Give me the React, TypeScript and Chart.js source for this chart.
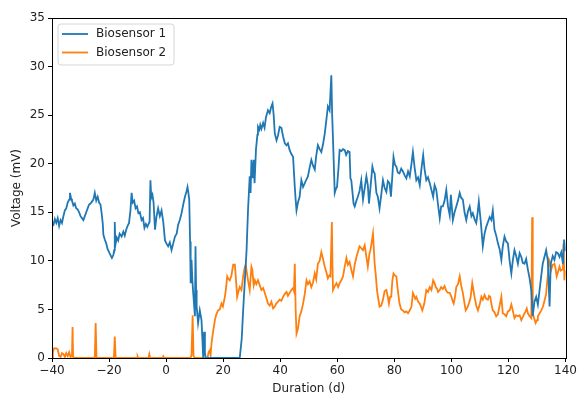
import React, { useEffect, useRef } from "react";
import { Chart, registerables } from "chart.js";

Chart.register(...registerables);

const seriesNames = ["Biosensor 1", "Biosensor 2"];
const seriesColors = ["#1f77b4", "#ff7f0e"];
const xTicks = [-40, -20, 0, 20, 40, 60, 80, 100, 120, 140];
const yTicks = [0, 5, 10, 15, 20, 25, 30, 35];

const b1X = [
  -40, -39.5, -39, -38.5, -38, -37.5, -37, -36.5, -36, -35.5, -35, -34.5, -34, -33.7, -33.3, -33, -32.5, -32, -31.5, -31,
  -30.5, -30, -29.5, -29, -28.5, -28, -27.5, -27, -26.5, -26, -25.5, -25, -24.5, -24, -23.5, -23, -22.6, -22.2, -22, -21.5,
  -21, -20.5, -20, -19.5, -19, -18.5, -18.2, -18, -17.8, -17.3, -16.8, -16.3, -15.6, -15, -14.5, -14, -13.5, -13, -12.5, -12.1,
  -11.7, -11.2, -10.7, -10.2, -9.7, -9.2, -8.6, -8.1, -7.6, -7.1, -6.6, -6.3, -5.8, -5.5, -5.2, -4.8, -4.4, -3.9, -3.4, -2.8,
  -2.2, -1.6, -1.0, -0.4, 0.1, 0.7, 1.3, 1.9, 2.5, 3.1, 3.7, 4.2, 4.8, 5.4, 6.0, 6.6, 7.1, 7.5, 7.8, 8.1,
  8.4, 8.6, 8.9, 9.2, 9.5, 9.8, 10.1, 10.3, 10.5, 10.7, 11.2, 11.8, 12.4, 12.7, 13.0, 13.3, 13.6, 13.9, 25.8, 26.5,
  27.0, 27.6, 28.2, 28.7, 29.3, 29.6, 29.9, 30.4, 30.7, 31.0, 31.5, 32.0, 32.2, 32.7, 33.0, 33.4, 34.0, 34.5, 35.0, 35.2,
  35.7, 36.3, 36.8, 37.3, 37.7, 38.1, 38.7, 39.2, 39.8, 40.4, 41.0, 41.6, 42.2, 42.7, 43.3, 43.9, 44.5, 45.1, 45.4, 45.7,
  46.2, 46.8, 47.4, 48.0, 48.6, 49.2, 49.7, 50.3, 50.9, 51.5, 52.1, 52.6, 53.2, 53.8, 54.4, 55.0, 55.6, 56.2, 56.7, 57.3,
  57.9, 58.2, 58.5, 59.1, 59.5, 59.9, 60.4, 60.8, 61.4, 62.0, 62.6, 63.1, 63.7, 64.3, 64.6, 64.9, 65.7, 66.1, 66.7, 67.2,
  67.8, 68.4, 69.0, 69.6, 70.2, 70.7, 71.1, 71.7, 72.3, 72.7, 73.1, 73.7, 74.2, 74.8, 75.4, 76.0, 76.6, 77.2, 77.7, 78.3,
  78.8, 79.3, 79.7, 80.2, 80.7, 81.2, 81.8, 82.4, 83.0, 83.6, 84.2, 84.8, 85.4, 86.0, 86.5, 87.1, 87.7, 88.3, 88.9, 89.5,
  90.1, 90.6, 91.2, 91.8, 92.4, 93.0, 93.6, 94.1, 94.7, 95.3, 95.9, 96.4, 97.0, 97.6, 98.2, 98.8, 99.4, 99.8, 100.5, 101.1,
  101.7, 102.3, 102.9, 103.4, 104.0, 104.6, 105.2, 105.8, 106.4, 107.0, 107.5, 108.1, 108.7, 109.2, 109.6, 110.3, 111.0, 111.6, 112.2, 112.8,
  113.4, 114.0, 114.5, 115.1, 115.7, 116.3, 116.9, 117.5, 118.0, 118.6, 119.2, 119.8, 120.4, 121.0, 121.5, 122.1, 122.7, 123.3, 123.9, 124.5,
  125.0, 125.6, 126.2, 126.8, 127.4, 128.0, 128.5, 129.1, 129.7, 130.3, 130.9, 131.5, 132.0, 132.6, 133.2, 133.8, 134.4, 134.8, 135.5, 136.1,
  136.7, 137.3, 137.9, 138.5, 139.1, 139.5, 140,
];
const b1Y = [
  13.8, 13.7, 14.3, 13.9, 14.4, 13.6, 14.2, 13.9, 14.6, 15.2, 15.4, 16.0, 16.3, 17.0, 16.4, 16.2, 15.7, 15.9, 15.4, 15.3,
  15.0, 14.6, 14.4, 14.2, 14.6, 15.0, 15.4, 15.8, 15.9, 16.1, 16.3, 17.0, 16.2, 16.6, 16.0, 15.8, 14.9, 13.8, 12.7, 12.2,
  11.8, 11.2, 10.9, 10.6, 10.3, 10.6, 11.1, 14.0, 11.6, 12.4, 12.1, 12.8, 12.5, 13.0, 12.6, 13.2, 13.6, 13.9, 15.2, 17.0,
  16.0, 16.2, 15.4, 15.6, 14.9, 15.0, 14.2, 14.4, 13.4, 13.8, 13.5, 13.7, 14.0, 18.3, 16.5, 16.8, 16.0, 13.2, 14.5, 15.4,
  14.6, 15.2, 14.0, 12.1, 11.8, 11.5, 11.9, 11.1, 11.8, 12.5, 12.8, 13.7, 14.2, 14.9, 15.8, 16.6, 17.1, 17.6, 17.0, 16.3,
  12.0, 7.7, 10.1, 8.0, 6.7, 5.5, 4.3, 11.5, 7.0, 5.3, 3.6, 4.9, 3.9, 2.0, 0.0, 2.7, 0.5, 0, 0, 2.0,
  4.9, 8.0, 11.1, 15.2, 18.7, 17.0, 20.4, 18.5, 20.4, 18.0, 21.5, 23.0, 23.8, 23.5, 24.0, 23.6, 24.2, 23.7, 24.8, 25.0,
  25.5, 25.2, 25.8, 26.2, 25.0, 23.1, 22.4, 22.9, 23.8, 23.7, 22.8, 22.1, 21.9, 22.1, 21.4, 21.0, 20.7, 17.6, 16.3, 15.2,
  16.0, 16.6, 18.3, 17.6, 18.0, 18.4, 18.7, 19.6, 20.4, 19.8, 19.4, 20.8, 21.9, 21.5, 21.2, 22.0, 23.1, 24.6, 25.9, 25.5,
  29.1, 25.0, 22.4, 17.0, 17.4, 17.6, 19.5, 21.4, 21.3, 21.5, 21.4, 20.9, 21.3, 21.2, 18.5, 18.3, 15.9, 15.6, 16.2, 16.6,
  17.2, 18.3, 16.3, 17.5, 18.7, 17.8, 15.9, 17.8, 19.7, 19.2, 19.0, 17.0, 16.6, 15.4, 16.8, 18.3, 17.5, 17.1, 18.2, 18.0,
  16.6, 18.8, 20.7, 19.9, 19.7, 19.1, 19.0, 19.5, 19.2, 18.8, 18.5, 19.2, 18.7, 20.0, 21.2, 19.6, 18.3, 18.6, 17.8, 19.5,
  20.9, 19.4, 18.3, 18.6, 18.0, 17.3, 16.6, 17.8, 17.3, 15.8, 14.4, 15.6, 15.6, 16.2, 17.3, 15.6, 14.7, 16.8, 14.2, 15.0,
  15.6, 16.2, 17.0, 16.5, 16.3, 15.0, 14.2, 15.1, 15.6, 14.6, 14.9, 14.3, 13.9, 15.0, 16.1, 14.0, 11.5, 12.8, 13.5, 14.0,
  14.5, 14.2, 15.2, 13.2, 12.6, 11.8, 11.2, 10.1, 11.5, 12.5, 12.0, 11.8, 10.0, 8.7, 10.0, 11.1, 10.5, 9.7, 10.8, 10.4,
  9.8, 9.7, 10.2, 9.1, 8.2, 7.0, 4.3, 5.8, 6.3, 5.5, 7.0, 8.5, 9.7, 10.4, 11.1, 10.0, 5.3, 9.7, 10.5, 10.1,
  10.9, 10.8, 10.4, 10.9, 9.7, 12.2, 11.0,
];

const b2X = [
  -40, -39.7, -39.3, -38.5, -38, -37.5, -37, -36.5, -36, -35.5, -35, -34.5, -34, -33.5, -33, -32.8, -32.6, -32, -25, -24.7,
  -24.4, -18.3, -18, -17.7, -10.2, -10, -9.8, -6.2, -5.9, -5.6, -1.2, -1.0, -0.8, 8.6, 8.9, 9.3, 9.6, 10.0, 14.5, 14.9,
  15.3, 15.6, 15.9, 16.5, 17.1, 17.6, 18.2, 18.8, 19.4, 19.9, 20.6, 21.0, 21.4, 21.7, 22.3, 22.9, 23.5, 24.1, 24.5, 24.9,
  25.3, 25.8, 26.4, 27.0, 27.6, 27.9, 28.3, 28.7, 29.3, 29.9, 30.2, 30.7, 31.1, 31.6, 32.2, 32.8, 33.4, 34.0, 34.6, 35.1,
  35.7, 36.3, 36.9, 37.5, 38.1, 38.6, 39.2, 39.8, 40.4, 41.0, 41.6, 42.2, 42.7, 43.3, 43.9, 44.5, 44.8, 45.1, 45.4, 45.7,
  46.2, 46.8, 47.4, 48.0, 48.6, 49.2, 49.7, 50.3, 50.9, 51.5, 52.1, 52.6, 53.2, 53.8, 54.4, 55.0, 55.6, 56.2, 56.7, 57.2,
  57.6, 58.1, 58.3, 58.5, 59.1, 59.7, 60.3, 60.8, 61.4, 62.0, 62.6, 63.2, 63.7, 64.3, 64.9, 65.5, 66.1, 66.7, 67.2, 67.8,
  68.4, 69.0, 69.6, 70.2, 70.7, 71.3, 71.6, 72.0, 72.5, 73.1, 73.5, 73.9, 74.3, 74.8, 75.4, 76.0, 76.6, 77.2, 77.7, 78.1,
  78.5, 78.9, 79.3, 79.7, 80.2, 80.7, 81.2, 81.8, 82.4, 83.0, 83.6, 84.2, 84.8, 85.4, 86.0, 86.5, 86.8, 87.3, 87.7, 88.3,
  88.9, 89.3, 89.8, 90.5, 91.2, 91.8, 92.4, 93.0, 93.6, 94.1, 94.5, 95.0, 95.3, 95.9, 96.4, 97.0, 97.6, 98.2, 98.8, 99.4,
  100.0, 100.5, 100.8, 101.2, 101.7, 102.3, 102.9, 103.4, 104.0, 104.6, 105.0, 105.6, 106.1, 106.7, 107.3, 107.7, 108.1, 108.7, 109.3, 109.9,
  110.5, 111.0, 111.6, 112.2, 112.8, 113.2, 113.6, 114.0, 114.5, 115.1, 115.7, 116.3, 116.9, 117.5, 118.0, 118.6, 119.2, 119.8, 120.4, 121.0,
  121.5, 122.1, 122.7, 123.3, 123.9, 124.5, 125.0, 125.6, 126.0, 126.4, 126.8, 127.4, 128.0, 128.3, 128.5, 128.8, 129.5, 130.0, 130.3, 130.9,
  131.5, 132.1, 132.7, 133.2, 133.5, 133.9, 134.2, 134.6, 135.0, 135.5, 136.1, 136.5, 136.9, 137.4, 137.9, 138.3, 138.8, 139.1, 139.3, 139.6,
  140,
];
const b2Y = [
  0, 0.6, 1.0, 1.0, 0.9, 0.2, 0.1, 0.5, 0.4, 0.1, 0.5, 0.2, 0.6, 0.1, 0.2, 3.2, 0.1, 0, 0, 3.6,
  0, 0, 2.2, 0, 0, 0.15, 0, 0, 0.4, 0, 0, 0.15, 0, 0, 0.3, 4.4, 0.2, 0, 0, 0.6,
  0.8, 0.3, 1.5, 2.8, 3.9, 4.5, 4.9, 5.0, 5.6, 5.3, 6.3, 7.2, 8.4, 8.2, 8.0, 8.5, 9.6, 9.6, 8.0, 6.3,
  6.8, 7.3, 7.0, 8.4, 9.4, 9.6, 8.8, 8.0, 7.0, 9.4, 9.1, 7.5, 8.0, 7.6, 8.0, 7.5, 7.0, 7.2, 6.7, 6.2,
  5.6, 5.4, 5.8, 5.1, 5.3, 5.6, 5.8, 6.0, 5.9, 6.3, 6.6, 6.8, 6.4, 6.7, 7.0, 7.2, 6.9, 9.7, 5.0, 2.5,
  3.0, 4.3, 4.8, 5.6, 6.6, 8.0, 7.6, 7.9, 7.3, 7.8, 8.7, 8.1, 9.7, 10.0, 10.9, 10.2, 9.4, 8.8, 8.2, 8.5,
  8.4, 14.0, 9.5, 7.0, 7.4, 7.7, 7.3, 7.7, 8.0, 8.4, 9.4, 10.3, 9.6, 9.9, 9.1, 8.4, 9.6, 10.4, 10.9, 11.5,
  11.3, 11.1, 11.6, 10.4, 9.4, 10.8, 11.1, 11.8, 12.8, 9.7, 8.5, 7.0, 6.2, 5.3, 5.4, 6.0, 6.9, 7.0, 6.3, 5.6,
  6.3, 6.3, 8.0, 8.7, 8.5, 8.4, 7.0, 5.6, 5.0, 4.9, 4.7, 4.8, 4.6, 4.9, 5.3, 6.7, 6.5, 6.1, 6.3, 5.8,
  5.6, 5.3, 4.9, 5.6, 7.0, 6.8, 7.3, 7.0, 8.0, 7.7, 7.3, 7.1, 6.8, 7.0, 7.3, 7.1, 7.4, 6.9, 6.7, 6.7,
  6.3, 5.8, 5.6, 6.2, 7.3, 7.6, 8.4, 7.5, 6.7, 5.6, 4.9, 5.2, 5.6, 6.2, 7.7, 7.0, 6.3, 5.4, 4.9, 5.5,
  6.3, 6.0, 6.5, 6.1, 6.0, 6.4, 6.3, 5.6, 4.9, 4.7, 4.3, 4.5, 5.4, 6.3, 4.6, 4.5, 4.3, 4.8, 4.9, 5.5,
  4.9, 4.1, 4.4, 4.3, 4.4, 3.9, 4.2, 4.6, 4.8, 5.1, 4.6, 4.3, 4.1, 14.5, 4.5, 4.3, 3.6, 3.9, 4.3, 4.6,
  4.9, 5.3, 6.0, 6.6, 7.7, 8.8, 10.1, 9.8, 9.1, 9.6, 9.7, 9.2, 8.4, 8.9, 9.4, 9.0, 9.1, 10.5, 11.8, 8.0,
  9.0,
];

const FONT = "'DejaVu Sans', sans-serif";

const framePlugin = {
  id: "frameAndLegend",
  afterDraw(chart: any) {
    const { ctx, chartArea } = chart;
    const { left, top, right, bottom } = chartArea;
    ctx.save();
    ctx.strokeStyle = "#000";
    ctx.lineWidth = 1;
    ctx.strokeRect(Math.round(left) + 0.5, Math.round(top) + 0.5, Math.round(right - left), Math.round(bottom - top));
    // legend (matplotlib style)
    const bx = left + 6;
    const by = top + 6;
    const bw = 116;
    const bh = 41;
    const r = 3;
    ctx.beginPath();
    ctx.moveTo(bx + r, by);
    ctx.lineTo(bx + bw - r, by);
    ctx.quadraticCurveTo(bx + bw, by, bx + bw, by + r);
    ctx.lineTo(bx + bw, by + bh - r);
    ctx.quadraticCurveTo(bx + bw, by + bh, bx + bw - r, by + bh);
    ctx.lineTo(bx + r, by + bh);
    ctx.quadraticCurveTo(bx, by + bh, bx, by + bh - r);
    ctx.lineTo(bx, by + r);
    ctx.quadraticCurveTo(bx, by, bx + r, by);
    ctx.closePath();
    ctx.fillStyle = "rgba(255,255,255,0.8)";
    ctx.fill();
    ctx.strokeStyle = "#d6d6d6";
    ctx.lineWidth = 1;
    ctx.stroke();
    ctx.font = `12px ${FONT}`;
    ctx.textBaseline = "middle";
    ctx.textAlign = "left";
    seriesNames.forEach((name, i) => {
      const y = by + 10 + i * 18.5;
      ctx.strokeStyle = seriesColors[i];
      ctx.lineWidth = 1.8;
      ctx.beginPath();
      ctx.moveTo(bx + 4, y);
      ctx.lineTo(bx + 30, y);
      ctx.stroke();
      ctx.fillStyle = "#222";
      ctx.fillText(name, bx + 38, y);
    });
    ctx.restore();
  },
};

export default function App() {
  const ref = useRef<HTMLCanvasElement | null>(null);
  useEffect(() => {
    document.body.style.margin = "0";
    const xs = [b1X, b2X];
    const ys = [b1Y, b2Y];
    const chart = new Chart(ref.current as HTMLCanvasElement, {
      type: "line",
      data: {
        datasets: seriesNames.map((name, i) => ({
          label: name,
          data: xs[i].map((x, j) => ({ x, y: ys[i][j] })),
          borderColor: seriesColors[i],
          backgroundColor: seriesColors[i],
          borderWidth: 1.8,
          pointRadius: 0,
          tension: 0,
          fill: false,
        })),
      },
      options: {
        animation: false,
        responsive: false,
        maintainAspectRatio: false,
        layout: { padding: { top: 18, right: 13, left: 0, bottom: 0 } },
        plugins: { legend: { display: false }, tooltip: { enabled: false } },
        scales: {
          x: {
            type: "linear",
            min: -40,
            max: 140,
            afterBuildTicks: (s: any) => {
              s.ticks = xTicks.map((v) => ({ value: v }));
            },
            afterFit: (s: any) => {
              s.height = 39;
            },
            ticks: {
              color: "#222",
              font: { family: FONT, size: 12 },
              padding: 2,
              maxRotation: 0,
              callback: (v: any) => String(v).replace("-", "\u2212"),
            },
            grid: { drawOnChartArea: false, tickLength: 4, tickColor: "#000", color: "#000" },
            border: { display: true, color: "#000" },
            title: {
              display: true,
              text: "Duration (d)",
              color: "#222",
              font: { family: FONT, size: 12 },
              padding: { top: 0, bottom: 1 },
            },
          },
          y: {
            type: "linear",
            min: 0,
            max: 35,
            afterBuildTicks: (s: any) => {
              s.ticks = yTicks.map((v) => ({ value: v }));
            },
            afterFit: (s: any) => {
              s.width = 52;
            },
            ticks: {
              color: "#222",
              font: { family: FONT, size: 12 },
              padding: 3,
            },
            grid: { drawOnChartArea: false, tickLength: 4, tickColor: "#000", color: "#000" },
            border: { display: true, color: "#000" },
            title: {
              display: true,
              text: "Voltage (mV)",
              color: "#222",
              font: { family: FONT, size: 12 },
              padding: { top: 10, bottom: 0 },
            },
          },
        },
      },
      plugins: [framePlugin],
    });
    return () => chart.destroy();
  }, []);
  return (
    <div style={{ width: 579, height: 397 }}>
      <canvas ref={ref} width={579} height={397} style={{ display: "block" }} />
    </div>
  );
}
